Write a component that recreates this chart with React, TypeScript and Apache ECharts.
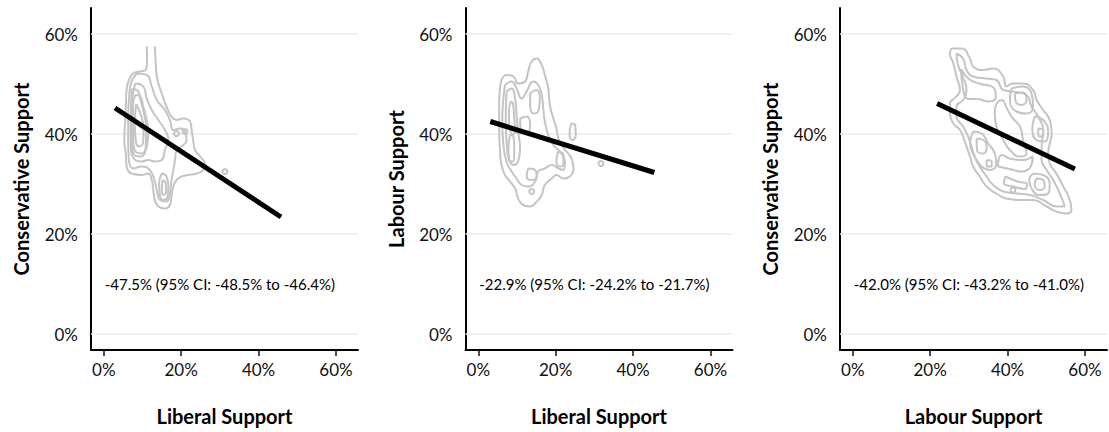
import React, { useEffect, useRef } from "react";
import * as echarts from "echarts";

const FONT = 'Lato, "DejaVu Sans", sans-serif';

const xTicks = [0, 20, 40, 60];
const yTicks = [0, 20, 40, 60];

const xTitles = ["Liberal Support", "Liberal Support", "Labour Support"];
const yTitles = ["Conservative Support", "Labour Support", "Conservative Support"];
const notes = [
  "-47.5% (95% CI: -48.5% to -46.4%)",
  "-22.9% (95% CI: -24.2% to -21.7%)",
  "-42.0% (95% CI: -43.2% to -41.0%)",
];
const notePos: [number, number] = [30, 10];

// regression lines
const fit1 = [[2.9, 45.2], [45.8, 23.4]];
const fit2 = [[3.1, 42.5], [45.5, 32.3]];
const fit3 = [[21.8, 46.1], [57.4, 33.0]];

// panel 1: Liberal vs Conservative density contours
const p1Outer = [[11.1,57.5],[11.2,54.8],[10.8,52.8],[9.4,52.5],[7.6,52.1],[6.5,50.8],[5.9,48.8],[5.7,45.5],[5.5,42.1],[5.3,38.8],[5.7,36.1],[5.9,33.5],[7.2,32.1],[9.8,31.8],[11.5,32.1],[12.4,30.8],[12.8,28.8],[13.2,26.8],[14.1,25.5],[15.8,25.1],[17.1,25.8],[17.5,27.5],[18.0,29.5],[18.8,30.8],[20.1,31.5],[21.8,31.8],[24.0,32.1],[25.7,32.8],[26.1,34.1],[24.9,35.5],[23.6,36.8],[23.1,38.8],[22.7,40.8],[22.3,42.5],[20.5,43.1],[18.8,42.8],[17.5,43.5],[16.2,45.5],[15.0,48.1],[13.7,51.5],[13.4,54.8],[13.2,57.5]];
const p1Ring2 = [[8.5,52.1],[11.1,51.8],[12.4,49.5],[13.7,46.8],[15.8,44.8],[17.1,42.8],[18.0,40.8],[19.7,41.1],[21.0,40.5],[21.4,38.8],[20.1,37.5],[18.8,36.8],[18.4,34.8],[18.0,32.8],[17.5,30.8],[17.1,28.1],[16.2,26.5],[14.5,26.8],[13.7,28.8],[13.1,30.8],[11.9,32.8],[9.8,33.5],[7.6,33.1],[6.5,34.8],[6.3,38.8],[6.3,42.8],[6.5,46.8],[7.0,50.1]];
const p1Ring3 = [[8.1,50.1],[10.2,49.5],[11.1,47.1],[12.4,44.8],[14.1,42.8],[15.8,40.8],[16.7,38.8],[15.8,36.8],[15.0,34.8],[13.2,34.5],[11.5,34.8],[9.8,34.5],[8.1,34.8],[7.0,37.5],[6.9,41.5],[7.2,46.1]];
const p1Ring4 = [[8.1,47.8],[9.4,47.5],[10.2,45.5],[11.1,42.8],[11.5,40.1],[11.1,37.5],[9.8,36.1],[8.2,36.5],[7.6,38.8],[7.5,42.8],[7.6,46.1]];
const p1Ring5 = [[15.0,32.1],[16.2,31.5],[16.7,29.5],[16.5,27.5],[15.4,26.8],[14.5,27.8],[14.3,30.1]];
const p1Ring6 = [[8.4,46.0],[9.5,44.0],[10.3,41.0],[10.2,38.5],[9.2,37.5],[8.3,38.5],[8.0,42.0]];
const p1Ring7 = [[15.2,30.8],[16.0,30.2],[16.1,28.5],[15.5,27.8],[15.0,28.8]];
const p1Ring8 = [[7.2,49.0],[8.6,48.8],[9.6,46.5],[10.4,44.0],[11.0,41.0],[10.8,37.0],[9.6,35.5],[7.8,35.9],[7.2,39.0],[7.1,43.5]];
const p1Dots = [[31.3,32.5],[18.8,40.1],[21.0,40.5]];

// panel 2: Liberal vs Labour density contours
const p2Ring1 = [[6.0,50.8],[7.3,51.8],[9.1,51.5],[10.3,50.1],[12.1,50.5],[12.9,52.5],[13.8,54.5],[15.1,55.1],[16.4,53.8],[17.2,51.8],[18.1,49.1],[18.5,45.8],[19.4,43.1],[20.2,41.1],[20.7,39.1],[21.5,37.8],[22.8,36.5],[24.1,35.1],[24.6,33.1],[23.7,31.5],[22.0,31.1],[20.2,31.8],[19.0,31.1],[17.2,29.8],[16.4,27.8],[15.1,26.5],[13.4,25.5],[11.6,25.8],[10.3,27.1],[9.5,29.1],[8.2,30.5],[6.9,31.8],[6.0,33.8],[5.6,37.1],[5.4,41.1],[5.4,45.8],[5.6,49.1]];
const p2Ring2 = [[6.9,49.8],[8.6,50.5],[9.9,49.1],[11.2,47.1],[12.5,48.5],[14.2,50.5],[15.5,49.8],[16.4,47.8],[16.8,45.1],[17.2,42.5],[18.1,39.8],[19.4,37.8],[21.1,36.5],[22.4,34.5],[22.0,32.8],[20.7,33.1],[19.0,33.8],[17.2,33.1],[15.5,32.5],[14.7,30.5],[12.9,29.5],[11.2,29.8],[9.9,31.1],[8.6,32.5],[7.3,34.5],[6.5,37.8],[6.2,42.5],[6.5,47.1]];
const p2Ring3 = [[7.3,48.5],[8.6,49.1],[9.5,47.1],[9.9,43.8],[10.3,40.5],[10.8,37.1],[10.3,34.5],[9.1,33.8],[7.9,35.1],[7.3,38.5],[7.1,43.1]];
const p2Ring4 = [[8.2,39.8],[9.1,39.5],[9.3,37.1],[9.1,34.5],[8.2,34.5],[7.8,37.1]];
const p2Ring5 = [[13.4,48.1],[15.1,48.8],[15.9,47.1],[15.5,44.5],[14.2,44.1],[13.4,46.1]];
const p2Ring6 = [[10.8,43.1],[12.5,43.5],[13.4,41.8],[12.5,40.1],[11.0,40.8]];
const p2Ring7 = [[12.9,33.1],[14.7,32.8],[15.1,31.5],[13.8,30.8],[12.5,31.5]];
const p2Ring8 = [[20.7,36.5],[22.0,35.8],[22.0,33.8],[20.9,33.5],[20.2,34.8]];
const p2Ring9 = [[24.0,42.1],[25.0,41.8],[25.2,39.8],[24.3,38.8],[23.6,40.1]];
const p2Ring10 = [[8.4,46.5],[9.0,46.0],[9.3,43.0],[9.6,40.5],[8.8,40.0],[8.0,42.0],[7.9,44.5]];
const p2Dots = [[31.7,34.1],[13.8,28.5]];

// panel 3: Labour vs Conservative density contours
const p3Ring1 = [[25.5,57.1],[28.1,57.1],[30.3,55.1],[31.1,53.5],[33.7,52.8],[36.3,53.1],[38.9,51.5],[39.7,49.5],[41.4,50.1],[44.0,50.1],[46.6,48.8],[47.5,46.8],[49.2,44.8],[50.9,42.8],[51.4,40.1],[50.9,38.1],[50.5,36.1],[50.9,34.1],[52.6,32.1],[54.4,29.5],[56.1,26.8],[56.5,24.8],[55.2,24.1],[52.6,24.5],[50.1,25.5],[46.6,26.8],[43.2,26.8],[39.7,27.1],[37.1,28.1],[34.6,29.5],[32.8,31.5],[31.1,33.5],[30.3,35.5],[29.4,37.5],[28.5,39.5],[27.7,40.8],[26.0,42.1],[25.1,44.1],[25.1,46.1],[26.8,47.5],[27.7,48.8],[26.8,51.5],[26.0,54.1],[25.1,56.1]];
const p3Ring2 = [[26.8,56.1],[28.5,55.1],[29.4,52.8],[31.1,51.5],[34.6,51.1],[37.1,50.8],[38.9,48.8],[41.4,48.5],[44.9,47.8],[46.2,45.5],[47.9,43.5],[49.2,40.8],[48.8,37.5],[48.8,34.8],[50.1,32.8],[51.8,30.8],[53.5,28.1],[54.8,25.5],[52.6,25.5],[49.2,26.8],[45.8,27.8],[42.3,28.1],[38.9,28.5],[36.3,29.8],[34.6,31.5],[32.8,33.5],[31.5,35.5],[30.7,37.5],[29.8,39.5],[28.5,41.5],[26.8,43.5],[26.8,45.5],[28.5,46.8],[29.4,48.8],[28.4,51.5],[27.2,53.8]];
const p3Ring3 = [[31.1,40.5],[33.3,40.1],[35.0,38.1],[36.7,36.1],[37.1,34.1],[35.4,32.8],[33.3,33.5],[31.5,35.5],[30.3,38.1]];
const p3Ring4 = [[32.0,39.1],[33.7,38.8],[34.6,37.5],[33.7,36.1],[32.1,36.8]];
const p3Ring5 = [[34.6,34.8],[35.9,34.5],[35.9,33.5],[34.6,33.5]];
const p3Ring6 = [[41.0,49.1],[44.0,49.5],[46.2,48.1],[46.6,45.5],[44.9,44.1],[42.3,44.5],[40.6,46.8]];
const p3Ring7 = [[41.9,48.1],[44.0,48.3],[44.9,46.8],[43.6,45.8],[42.1,46.5]];
const p3Ring8 = [[47.0,43.5],[49.2,42.8],[50.5,40.5],[49.6,38.5],[47.5,38.8],[46.4,41.1]];
const p3Ring9 = [[47.9,41.1],[49.2,40.8],[49.2,39.5],[48.1,39.5]];
const p3Ring10 = [[46.6,32.1],[49.2,31.8],[50.9,30.1],[50.5,28.1],[48.3,27.8],[46.2,29.1],[45.6,30.8]];
const p3Ring11 = [[47.5,31.1],[49.2,30.8],[49.6,29.5],[48.3,28.8],[47.0,29.8]];
const p3Ring12 = [[38.9,46.8],[41.0,43.5],[43.2,41.5],[44.0,38.8],[44.9,36.1],[43.2,35.5],[40.6,36.8],[38.9,38.8],[37.1,41.5],[36.7,44.1],[37.6,46.5]];
const p3Ring13 = [[28.0,53.0],[30.0,51.0],[33.0,50.0],[36.0,49.5],[37.0,47.5],[35.0,46.5],[32.0,47.0],[30.0,47.0],[28.5,49.0]];
const p3Ring14 = [[37.5,33.5],[40.5,33.0],[43.5,32.5],[46.0,33.5],[46.5,35.5],[44.0,34.8],[41.0,35.0],[38.5,35.8]];
const p3Ring15 = [[39.5,31.5],[42.5,30.5],[45.0,30.0],[44.5,29.0],[41.5,29.5],[39.0,30.2]];
const p3Dots = [[41.4,28.8]];

const panels = [
  { open: [p1Outer], closed: [p1Ring2, p1Ring3, p1Ring4, p1Ring5, p1Ring6, p1Ring7, p1Ring8], dots: p1Dots, fit: fit1 },
  { open: [], closed: [p2Ring1, p2Ring2, p2Ring3, p2Ring4, p2Ring5, p2Ring6, p2Ring7, p2Ring8, p2Ring9, p2Ring10], dots: p2Dots, fit: fit2 },
  { open: [], closed: [p3Ring1, p3Ring2, p3Ring3, p3Ring4, p3Ring5, p3Ring6, p3Ring7, p3Ring8, p3Ring9, p3Ring10, p3Ring11, p3Ring12, p3Ring13, p3Ring14, p3Ring15], dots: p3Dots, fit: fit3 },
];

const CONTOUR = "#c4c4c4";

export default function App() {
  const ref = useRef<HTMLDivElement>(null);
  useEffect(() => {
    if (!ref.current) return;
    const chart = echarts.init(ref.current, null, { renderer: "svg" });
    const lefts = [91, 465.5, 840];
    const grid = lefts.map((l) => ({ left: l, top: 8, width: 267, height: 342 }));
    const xAxis = lefts.map((_, i) => ({
      gridIndex: i,
      type: "value",
      min: -3.3,
      max: 65.7,
      name: xTitles[i],
      nameLocation: "middle",
      nameGap: 56,
      nameTextStyle: { fontFamily: FONT, fontWeight: "bold", fontSize: 20, color: "#000" },
      axisLine: { show: true, onZero: false, lineStyle: { color: "#000", width: 2 } },
      axisTick: { show: true, customValues: xTicks, length: 6, lineStyle: { color: "#111", width: 1.5 } },
      axisLabel: {
        customValues: xTicks,
        formatter: (v: number) => `${v}%`,
        fontFamily: FONT,
        fontSize: 17,
        color: "#111",
        margin: 11,
      },
      splitLine: { show: false },
    }));
    const yAxis = lefts.map((_, i) => ({
      gridIndex: i,
      type: "value",
      min: -3.2,
      max: 65.2,
      name: yTitles[i],
      nameLocation: "middle",
      nameGap: 60,
      nameTextStyle: { fontFamily: FONT, fontWeight: "bold", fontSize: 20, color: "#000" },
      axisLine: { show: true, onZero: false, lineStyle: { color: "#000", width: 2 } },
      axisTick: { show: false },
      axisLabel: {
        customValues: yTicks,
        formatter: (v: number) => `${v}%`,
        fontFamily: FONT,
        fontSize: 17,
        color: "#111",
        margin: 13,
      },
      splitLine: { show: false },
    }));
    const series: any[] = [];
    panels.forEach((p, i) => {
      series.push({
        type: "scatter",
        xAxisIndex: i,
        yAxisIndex: i,
        data: [notePos],
        symbolSize: 1,
        itemStyle: { color: "transparent", opacity: 1 },
        silent: true,
        z: 1,
        label: {
          show: true,
          position: "inside",
          formatter: () => notes[i],
          fontFamily: FONT,
          fontSize: 15,
          color: "#000",
          opacity: 1,
        },
        markLine: {
          silent: true,
          symbol: ["none", "none"],
          label: { show: false },
          lineStyle: { color: "#ebebeb", width: 1.6, type: "solid", opacity: 1 },
          data: yTicks.map((v) => ({ yAxis: v })),
          z: 1,
        },
      });
      const addRing = (pts: number[][], close: boolean) => {
        series.push({
          type: "line",
          xAxisIndex: i,
          yAxisIndex: i,
          data: close ? [...pts, pts[0]] : pts,
          smooth: 0.5,
          symbol: "none",
          silent: true,
          z: 10,
          lineStyle: { color: CONTOUR, width: 2 },
        });
      };
      p.open.forEach((r) => addRing(r, false));
      p.closed.forEach((r) => addRing(r, true));
      series.push({
        type: "scatter",
        xAxisIndex: i,
        yAxisIndex: i,
        data: p.dots,
        symbol: "circle",
        symbolSize: 5,
        silent: true,
        z: 10,
        itemStyle: { color: "transparent", borderColor: CONTOUR, borderWidth: 2, opacity: 1 },
      });
      series.push({
        type: "line",
        xAxisIndex: i,
        yAxisIndex: i,
        data: p.fit,
        symbol: "none",
        silent: true,
        z: 12,
        lineStyle: { color: "#000", width: 5, cap: "butt" },
      });
    });
    chart.setOption({ animation: false, grid, xAxis, yAxis, series });
    return () => chart.dispose();
  }, []);
  return <div ref={ref} style={{ width: 1109, height: 432, position: "absolute", left: 0, top: 0 }} />;
}
